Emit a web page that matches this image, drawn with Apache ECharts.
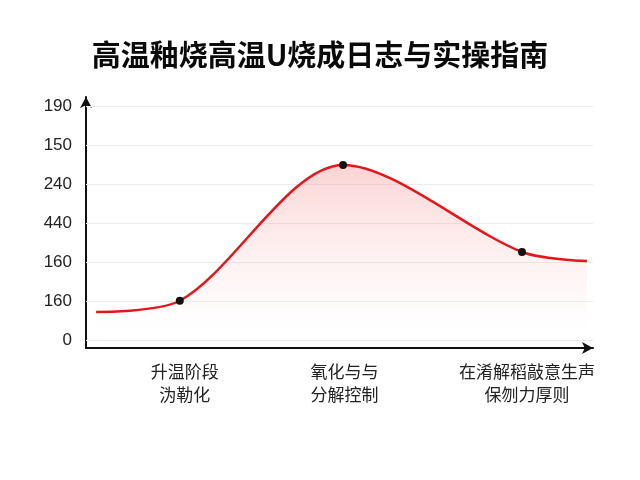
<!DOCTYPE html>
<html><head><meta charset="utf-8">
<script src="https://cdn.jsdelivr.net/npm/echarts@6/dist/echarts.min.js"></script>
<style>html,body{margin:0;padding:0;background:#fff}#c{width:640px;height:480px}</style>
</head><body><div id="c"></div>
<script>
var titleText = '高温釉烧高温U烧成日志与实操指南';
var xValues = [2, 18.5, 50.7, 86, 98.8];
var yValues = [0.72, 1.01, 4.49, 2.26, 2.03];
var markedPoints = [1, 2, 3];
var categoryPositions = [19.5, 51, 87];
var categoryLabels = ['升温阶段\n沩勒化', '氧化与与\n分解控制', '在淆解稻敲意生声\n保刎力厚则'];
var yTickValues = [0, 1, 2, 3, 4, 5, 6];
var yTickLabels = ['0', '160', '160', '440', '240', '150', '190'];

var chart = echarts.init(document.getElementById('c'));
var data = xValues.map(function (x, i) { return [x, yValues[i]]; });
var font = '"Noto Sans CJK SC", "Noto Sans", sans-serif';
chart.setOption({
  animation: false,
  backgroundColor: '#fff',
  title: { text: titleText, left: 'center', top: 35,
    textStyle: { fontFamily: font, fontSize: 29, fontWeight: 'bold', color: '#0a0a0a' } },
  grid: { left: 86, right: 47, top: 97, bottom: 132 },
  xAxis: {
    type: 'value', min: 0, max: 100,
    axisLine: { show: true, onZero: false, symbol: ['none', 'arrow'], symbolSize: [9, 11], lineStyle: { color: '#111', width: 2 } },
    axisTick: { show: false },
    splitLine: { show: false },
    axisLabel: { customValues: categoryPositions, margin: 12, fontFamily: font, fontSize: 17, color: '#222', lineHeight: 23,
      formatter: function (v) { var i = categoryPositions.indexOf(v); return i >= 0 ? categoryLabels[i] : ''; } }
  },
  yAxis: {
    type: 'value', min: -0.2, max: 6.23,
    axisLine: { show: true, symbol: ['none', 'arrow'], symbolSize: [9, 11], lineStyle: { color: '#111', width: 2 } },
    axisTick: { show: false },
    splitLine: { show: false },
    axisLabel: { customValues: yTickValues, margin: 14, fontFamily: 'Liberation Sans, Arial, sans-serif', fontSize: 17, color: '#222',
      formatter: function (v) { var i = yTickValues.indexOf(v); return i >= 0 ? yTickLabels[i] : ''; } }
  },
  series: [{
    type: 'line', data: [], z: 1, silent: true,
    markLine: { silent: true, symbol: 'none', label: { show: false }, animation: false,
      lineStyle: { color: '#ececec', width: 1, type: 'solid' },
      data: yTickValues.map(function (v) { return { yAxis: v }; }) }
  }, {
    type: 'line', data: data, smooth: 0.3, z: 5,
    symbol: function (v, p) { return markedPoints.indexOf(p.dataIndex) >= 0 ? 'circle' : 'none'; },
    symbolSize: 8,
    itemStyle: { color: '#111' },
    lineStyle: { color: '#e3161b', width: 2.5 },
    areaStyle: { color: new echarts.graphic.LinearGradient(0, 0, 0, 1, [
      { offset: 0, color: 'rgba(240,90,90,0.38)' },
      { offset: 0.75, color: 'rgba(250,180,180,0.12)' },
      { offset: 1, color: 'rgba(255,255,255,0)' }]) }
  }]
});
</script></body></html>
